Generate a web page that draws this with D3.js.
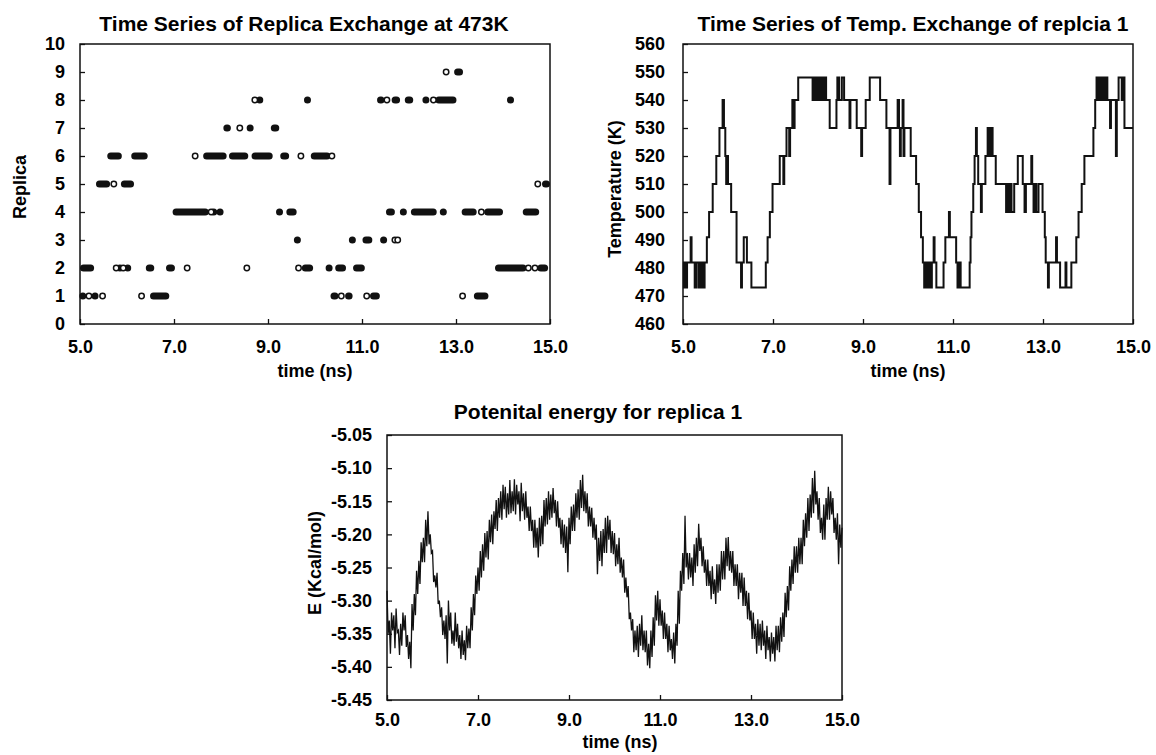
<!DOCTYPE html>
<html>
<head>
<meta charset="utf-8">
<script src="https://cdn.jsdelivr.net/npm/d3@7"></script>
<style>
  body { margin: 0; background: #fff; }
  svg text { font-family: "Liberation Sans", Arial, sans-serif; font-weight: bold; fill: #000; }
</style>
</head>
<body>
<script>
// ---- data ----
const timeTicks = [5, 7, 9, 11, 13, 15];
const replicaTicks = [0, 1, 2, 3, 4, 5, 6, 7, 8, 9, 10];
const tempTicks = [460, 470, 480, 490, 500, 510, 520, 530, 540, 550, 560];
const energyTicks = [-5.45, -5.40, -5.35, -5.30, -5.25, -5.20, -5.15, -5.10, -5.05];

// replica at 473K: [replica, start ns, end ns] = extent of each dense run of points
const replicaRuns = [
  [1, 5.00, 5.12], [1, 5.27, 5.37], [1, 6.49, 6.90], [1, 10.33, 10.50], [1, 10.64, 10.80],
  [1, 11.17, 11.38], [1, 13.38, 13.69],
  [2, 5.00, 5.30], [2, 5.85, 5.85], [2, 5.98, 6.05], [2, 6.40, 6.58], [2, 6.83, 7.02],
  [2, 9.72, 9.96], [2, 10.30, 10.30], [2, 10.43, 10.66], [2, 10.81, 11.06], [2, 13.83, 14.50],
  [2, 14.73, 14.96],
  [3, 9.57, 9.68], [3, 10.76, 10.83], [3, 11.01, 11.22], [3, 11.42, 11.50],
  [4, 6.97, 7.74], [4, 7.83, 7.86], [4, 7.97, 7.99], [4, 9.19, 9.30], [4, 9.39, 9.61],
  [4, 11.51, 11.70], [4, 11.81, 11.95], [4, 12.04, 12.59], [4, 12.73, 12.73], [4, 13.12, 13.44],
  [4, 13.60, 14.00], [4, 14.42, 14.77],
  [5, 5.34, 5.64], [5, 5.87, 6.15], [5, 14.83, 15.00],
  [6, 5.58, 5.89], [6, 6.09, 6.44], [6, 7.62, 8.12], [6, 8.17, 8.58], [6, 8.65, 9.10],
  [6, 9.26, 9.45], [6, 9.91, 10.33],
  [7, 8.05, 8.21], [7, 8.55, 8.69], [7, 9.06, 9.24],
  [8, 8.80, 8.85], [8, 9.83, 9.85], [8, 11.32, 11.48], [8, 11.63, 11.81], [8, 11.91, 12.09],
  [8, 12.31, 12.41], [8, 12.56, 13.01], [8, 14.13, 14.19],
  [9, 12.96, 13.15]
];
// isolated (open) points: [replica, ns]
const replicaOpen = [
  [1, 5.19], [1, 5.48], [1, 6.31], [1, 10.56], [1, 11.10], [1, 13.14],
  [2, 5.77], [2, 5.92], [2, 7.28], [2, 8.55], [2, 9.65], [2, 14.54], [2, 14.68],
  [3, 11.70], [3, 11.76],
  [4, 7.79], [4, 13.54],
  [5, 5.72], [5, 14.74],
  [6, 7.45], [6, 9.70], [6, 10.36],
  [7, 8.40],
  [8, 8.72], [8, 11.53], [8, 12.52],
  [9, 12.79]
];

// temperature of replica 1: [ns, K] held until the next entry
const tempSteps = [
  [5.00, 482], [5.02, 473], [5.04, 482], [5.07, 473], [5.09, 482], [5.17, 491], [5.19, 482],
  [5.26, 473], [5.30, 482], [5.35, 473], [5.37, 482], [5.41, 473], [5.43, 482], [5.46, 473],
  [5.48, 482], [5.53, 491], [5.58, 500], [5.66, 510], [5.74, 520], [5.81, 530], [5.88, 540],
  [5.91, 530], [5.94, 520], [5.96, 510], [5.98, 520], [6.00, 510], [6.07, 500], [6.19, 482],
  [6.29, 473], [6.31, 482], [6.35, 491], [6.42, 482], [6.52, 473], [6.84, 482], [6.88, 491],
  [6.93, 500], [6.99, 510], [7.15, 520], [7.23, 510], [7.25, 520], [7.30, 530], [7.36, 520],
  [7.38, 530], [7.43, 540], [7.46, 530], [7.48, 540], [7.56, 548], [7.88, 540], [7.91, 548],
  [7.95, 540], [7.98, 548], [8.01, 540], [8.04, 548], [8.07, 540], [8.09, 548], [8.12, 540],
  [8.15, 548], [8.18, 540], [8.26, 530], [8.41, 540], [8.43, 548], [8.47, 540], [8.53, 548],
  [8.58, 540], [8.70, 530], [8.72, 540], [8.86, 530], [8.96, 520], [8.98, 530], [9.06, 540],
  [9.15, 548], [9.38, 540], [9.52, 530], [9.59, 510], [9.61, 530], [9.77, 540], [9.80, 530],
  [9.82, 520], [9.84, 530], [9.88, 540], [9.90, 520], [9.92, 530], [10.06, 520], [10.18, 510],
  [10.24, 500], [10.29, 491], [10.33, 482], [10.36, 473], [10.40, 482], [10.42, 473],
  [10.46, 482], [10.50, 473], [10.53, 482], [10.57, 491], [10.59, 482], [10.63, 473],
  [10.79, 482], [10.83, 491], [10.91, 500], [10.93, 491], [11.07, 482], [11.10, 473],
  [11.13, 482], [11.17, 473], [11.37, 482], [11.39, 491], [11.41, 500], [11.45, 510],
  [11.48, 520], [11.51, 530], [11.53, 520], [11.56, 510], [11.62, 500], [11.64, 510],
  [11.72, 520], [11.77, 530], [11.79, 520], [11.81, 530], [11.83, 520], [11.85, 530],
  [11.88, 520], [11.95, 510], [12.18, 500], [12.20, 510], [12.23, 500], [12.27, 510],
  [12.30, 500], [12.36, 510], [12.44, 520], [12.55, 510], [12.59, 500], [12.62, 510],
  [12.74, 520], [12.76, 510], [12.79, 500], [12.83, 510], [12.85, 500], [12.90, 510],
  [12.99, 500], [13.04, 491], [13.06, 482], [13.11, 473], [13.13, 482], [13.29, 491],
  [13.31, 482], [13.38, 473], [13.50, 482], [13.52, 473], [13.63, 482], [13.74, 491],
  [13.79, 500], [13.86, 510], [13.92, 520], [14.12, 530], [14.16, 540], [14.19, 548],
  [14.22, 540], [14.24, 548], [14.27, 540], [14.29, 548], [14.32, 540], [14.34, 548],
  [14.37, 540], [14.39, 548], [14.43, 540], [14.49, 530], [14.51, 540], [14.62, 520],
  [14.64, 540], [14.68, 548], [14.75, 540], [14.77, 548], [14.81, 530], [15.00, 530]
];

// potential energy: local highs (at 5.00, 5.05, ... 15.00) and lows (0.025 ns later)
const energyStep = 0.05;
const energyHigh = [
  -5.285, -5.330, -5.318, -5.322, -5.312, -5.345, -5.335, -5.318, -5.322, -5.352,
  -5.362, -5.305, -5.290, -5.255, -5.240, -5.212, -5.205, -5.178, -5.165, -5.200,
  -5.225, -5.262, -5.258, -5.300, -5.310, -5.330, -5.322, -5.300, -5.318, -5.345,
  -5.318, -5.335, -5.352, -5.345, -5.360, -5.338, -5.342, -5.310, -5.290, -5.262,
  -5.250, -5.225, -5.215, -5.198, -5.195, -5.178, -5.170, -5.165, -5.148, -5.145,
  -5.135, -5.125, -5.128, -5.138, -5.118, -5.135, -5.117, -5.125, -5.135, -5.122,
  -5.138, -5.135, -5.158, -5.158, -5.178, -5.178, -5.190, -5.175, -5.172, -5.148,
  -5.145, -5.135, -5.140, -5.130, -5.148, -5.150, -5.175, -5.178, -5.185, -5.188,
  -5.175, -5.158, -5.155, -5.138, -5.132, -5.118, -5.110, -5.135, -5.138, -5.158,
  -5.160, -5.175, -5.185, -5.205, -5.195, -5.192, -5.175, -5.172, -5.178, -5.195,
  -5.198, -5.215, -5.205, -5.235, -5.238, -5.265, -5.278, -5.318, -5.328, -5.345,
  -5.338, -5.335, -5.322, -5.345, -5.345, -5.365, -5.345, -5.325, -5.292, -5.285,
  -5.298, -5.315, -5.318, -5.335, -5.338, -5.358, -5.348, -5.335, -5.285, -5.255,
  -5.228, -5.172, -5.228, -5.228, -5.235, -5.215, -5.205, -5.184, -5.205, -5.218,
  -5.238, -5.238, -5.255, -5.248, -5.268, -5.245, -5.245, -5.225, -5.225, -5.205,
  -5.204, -5.225, -5.225, -5.245, -5.245, -5.258, -5.258, -5.265, -5.285, -5.288,
  -5.315, -5.318, -5.335, -5.328, -5.335, -5.330, -5.345, -5.338, -5.355, -5.348,
  -5.355, -5.338, -5.338, -5.325, -5.318, -5.288, -5.278, -5.248, -5.238, -5.218,
  -5.218, -5.205, -5.205, -5.178, -5.168, -5.145, -5.140, -5.115, -5.104, -5.135,
  -5.145, -5.175, -5.155, -5.145, -5.128, -5.135, -5.145, -5.175, -5.168, -5.185,
  -5.190
];
const energyLow = [
  -5.350, -5.380, -5.345, -5.372, -5.348, -5.382, -5.368, -5.345, -5.370, -5.388,
  -5.402, -5.345, -5.322, -5.290, -5.275, -5.242, -5.242, -5.218, -5.215, -5.228,
  -5.272, -5.280, -5.305, -5.325, -5.352, -5.358, -5.395, -5.345, -5.365, -5.368,
  -5.362, -5.372, -5.388, -5.382, -5.390, -5.372, -5.372, -5.345, -5.322, -5.290,
  -5.285, -5.265, -5.255, -5.235, -5.238, -5.212, -5.215, -5.192, -5.195, -5.175,
  -5.178, -5.162, -5.175, -5.170, -5.168, -5.165, -5.170, -5.155, -5.180, -5.165,
  -5.178, -5.175, -5.195, -5.195, -5.220, -5.220, -5.235, -5.218, -5.215, -5.188,
  -5.185, -5.178, -5.175, -5.168, -5.188, -5.190, -5.215, -5.220, -5.228, -5.257,
  -5.215, -5.195, -5.195, -5.175, -5.178, -5.160, -5.165, -5.168, -5.188, -5.188,
  -5.205, -5.208, -5.260, -5.240, -5.248, -5.228, -5.228, -5.208, -5.228, -5.230,
  -5.248, -5.245, -5.258, -5.265, -5.288, -5.295, -5.328, -5.345, -5.378, -5.375,
  -5.385, -5.368, -5.375, -5.378, -5.398, -5.402, -5.385, -5.368, -5.330, -5.338,
  -5.338, -5.358, -5.358, -5.378, -5.375, -5.388, -5.395, -5.368, -5.335, -5.285,
  -5.275, -5.250, -5.268, -5.265, -5.278, -5.258, -5.248, -5.225, -5.248, -5.258,
  -5.278, -5.278, -5.298, -5.290, -5.305, -5.288, -5.285, -5.268, -5.268, -5.248,
  -5.255, -5.258, -5.278, -5.278, -5.298, -5.288, -5.308, -5.308, -5.328, -5.330,
  -5.358, -5.358, -5.380, -5.368, -5.375, -5.368, -5.388, -5.375, -5.392, -5.380,
  -5.392, -5.375, -5.378, -5.362, -5.355, -5.325, -5.315, -5.285, -5.275, -5.258,
  -5.258, -5.245, -5.245, -5.218, -5.205, -5.195, -5.175, -5.168, -5.155, -5.178,
  -5.198, -5.208, -5.208, -5.178, -5.178, -5.170, -5.198, -5.208, -5.245, -5.220
];

// ---- drawing ----
const FONT = '"Liberation Sans", Arial, sans-serif';
const INK = '#111';
const DOT = 7; // marker diameter in px

const svg = d3.select('body').append('svg')
  .attr('width', 1156)
  .attr('height', 755);

function panel(o) {
  const x = d3.scaleLinear().domain([5, 15]).range([o.left, o.right]);
  const y = d3.scaleLinear().domain(o.yDomain).range([o.bottom, o.top]);

  const xa = svg.append('g')
    .attr('transform', `translate(0,${o.bottom})`)
    .call(d3.axisBottom(x).tickValues(timeTicks).tickFormat(d => d.toFixed(1))
      .tickSizeInner(-5).tickSizeOuter(0).tickPadding(o.xPad));
  const ya = svg.append('g')
    .attr('transform', `translate(${o.left},0)`)
    .call(d3.axisLeft(y).tickValues(o.yTicks).tickFormat(o.yFormat)
      .tickSizeInner(-5).tickSizeOuter(0).tickPadding(o.yPad));
  [xa, ya].forEach(a => {
    a.select('.domain').remove();
    a.attr('font-size', 18).attr('font-family', FONT).attr('font-weight', 'bold');
    a.selectAll('line').attr('stroke', INK).attr('stroke-width', 1.3);
    a.selectAll('text').attr('fill', '#000');
  });

  svg.append('rect')
    .attr('x', o.left).attr('y', o.top)
    .attr('width', o.right - o.left).attr('height', o.bottom - o.top)
    .attr('fill', 'none').attr('stroke', INK).attr('stroke-width', 1.5);

  svg.append('text')
    .attr('x', o.titleX).attr('y', o.titleY)
    .attr('text-anchor', 'middle').attr('font-size', 21)
    .text(o.title);
  svg.append('text')
    .attr('x', o.xLabelX).attr('y', o.xLabelY)
    .attr('text-anchor', 'middle').attr('font-size', 18)
    .text('time (ns)');
  svg.append('text')
    .attr('transform', `translate(${o.yLabelX},${o.yLabelY}) rotate(-90)`)
    .attr('text-anchor', 'middle').attr('dy', '0.35em').attr('font-size', 18)
    .text(o.yLabel);

  return { x, y };
}

// panel 1: replica at 473K
const p1 = panel({
  left: 80, right: 550, top: 44, bottom: 324,
  yDomain: [0, 10], yTicks: replicaTicks, yFormat: d => d,
  xPad: 16, yPad: 15,
  title: 'Time Series of Replica Exchange at 473K', titleX: 304, titleY: 31,
  xLabelX: 315, xLabelY: 377,
  yLabel: 'Replica', yLabelX: 20, yLabelY: 187
});
// runs of overlapping markers drawn as rounded bars spanning the read extent
svg.append('g').selectAll('rect')
  .data(replicaRuns)
  .join('rect')
  .each(function (d) {
    let x0 = p1.x(d[1]), x1 = p1.x(d[2]);
    if (x1 - x0 < DOT) { const c = (x0 + x1) / 2; x0 = c - DOT / 2; x1 = c + DOT / 2; }
    d3.select(this)
      .attr('x', x0).attr('width', x1 - x0)
      .attr('y', p1.y(d[0]) - DOT / 2).attr('height', DOT)
      .attr('rx', DOT / 2).attr('ry', DOT / 2);
  })
  .attr('fill', INK);
svg.append('g').selectAll('circle')
  .data(replicaOpen)
  .join('circle')
  .attr('cx', d => p1.x(d[1])).attr('cy', d => p1.y(d[0]))
  .attr('r', 2.7)
  .attr('fill', '#fff').attr('stroke', INK).attr('stroke-width', 1.5);

// panel 2: temperature of replica 1
const p2 = panel({
  left: 683, right: 1133, top: 44, bottom: 324,
  yDomain: [460, 560], yTicks: tempTicks, yFormat: d => d,
  xPad: 16, yPad: 18,
  title: 'Time Series of Temp. Exchange of replcia 1', titleX: 913, titleY: 31,
  xLabelX: 908, xLabelY: 377,
  yLabel: 'Temperature (K)', yLabelX: 615, yLabelY: 189
});
svg.append('path')
  .datum(tempSteps)
  .attr('d', d3.line().x(d => p2.x(d[0])).y(d => p2.y(d[1])).curve(d3.curveStepAfter))
  .attr('fill', 'none').attr('stroke', INK).attr('stroke-width', 2);

// panel 3: potential energy
const p3 = panel({
  left: 387, right: 842, top: 435, bottom: 700,
  yDomain: [-5.45, -5.05], yTicks: energyTicks, yFormat: d => d.toFixed(2),
  xPad: 13, yPad: 15,
  title: 'Potenital energy for replica 1', titleX: 598, titleY: 419,
  xLabelX: 620, xLabelY: 748,
  yLabel: 'E (Kcal/mol)', yLabelX: 315, yLabelY: 563
});
const energyPts = [];
energyHigh.forEach((v, i) => {
  const t = 5 + i * energyStep;
  energyPts.push([t, v]);
  if (i < energyLow.length) energyPts.push([t + energyStep / 2, energyLow[i]]);
});
svg.append('path')
  .datum(energyPts)
  .attr('d', d3.line().x(d => p3.x(d[0])).y(d => p3.y(d[1])))
  .attr('fill', 'none').attr('stroke', INK).attr('stroke-width', 1.3);
</script>
</body>
</html>
